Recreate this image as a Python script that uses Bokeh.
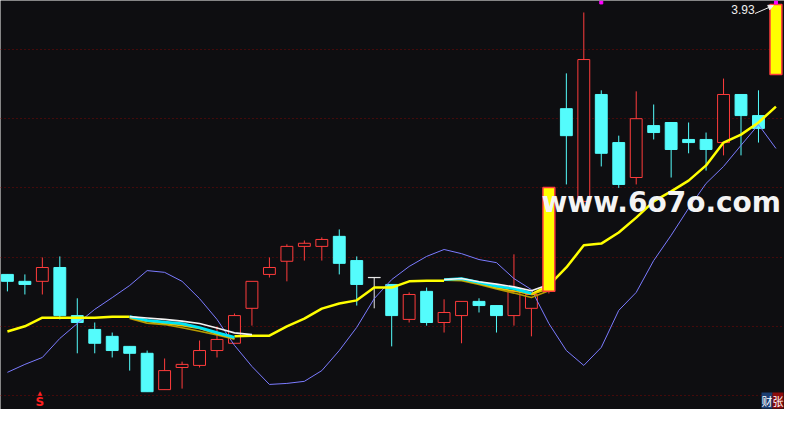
import numpy as np
from bokeh.plotting import figure
from bokeh.models import ColumnDataSource, FixedTicker, Grid, Label, Arrow, NormalHead
from bokeh.embed import file_html
from bokeh.resources import INLINE

nan = float("nan")

# daily bars
opens = [3.150, 3.130, 3.130, 3.170, 3.031, 2.991, 2.971, 2.942, 2.922, 2.817,
         2.881, 2.887, 2.930, 2.951, 3.052, 3.150, 3.188, 3.231, 3.231, 3.260,
         3.190, 3.141, 3.121, 3.020, 3.101, 3.011, 3.031, 3.072, 3.060, 3.031,
         3.052, 3.101, 3.629, 3.361, 3.670, 3.531, 3.430, 3.580, 3.589, 3.540,
         3.540, 3.531, 3.670, 3.609, 3.728]
highs = [3.150, 3.150, 3.199, 3.202, 3.081, 3.011, 2.982, 2.942, 2.930, 2.907,
         2.898, 2.959, 2.999, 3.037, 3.130, 3.199, 3.237, 3.248, 3.257, 3.280,
         3.202, 3.141, 3.121, 3.098, 3.112, 3.078, 3.072, 3.081, 3.060, 3.208,
         3.095, 3.401, 3.731, 3.907, 3.682, 3.551, 3.679, 3.641, 3.589, 3.589,
         3.560, 3.716, 3.670, 3.682, 3.930]
lows = [3.101, 3.092, 3.092, 3.020, 2.922, 2.922, 2.910, 2.872, 2.811, 2.817,
        2.820, 2.881, 2.910, 2.951, 3.002, 3.141, 3.130, 3.190, 3.190, 3.150,
        3.060, 3.052, 2.942, 3.011, 3.002, 2.982, 2.951, 3.040, 2.982, 3.002,
        2.971, 3.095, 3.410, 3.361, 3.462, 3.400, 3.410, 3.540, 3.430, 3.500,
        3.450, 3.494, 3.494, 3.531, 3.728]
closes = [3.130, 3.121, 3.170, 3.031, 3.011, 2.951, 2.930, 2.922, 2.811, 2.872,
          2.890, 2.930, 2.962, 3.031, 3.130, 3.170, 3.231, 3.240, 3.251, 3.182,
          3.121, 3.141, 3.031, 3.092, 3.011, 3.040, 3.072, 3.060, 3.031, 3.101,
          3.092, 3.401, 3.551, 3.771, 3.500, 3.410, 3.600, 3.560, 3.511, 3.531,
          3.511, 3.670, 3.609, 3.572, 3.930]

# moving-average style lines
ma_yellow = [2.985, 3.000, 3.025, 3.025, 3.025, 3.025, 3.028, 3.028, nan, nan,
             nan, nan, nan, 2.971, 2.973, 2.973, 3.000, 3.022, 3.051, 3.066,
             3.075, 3.112, 3.112, 3.130, 3.132, 3.132, nan, nan, nan, nan,
             3.092, 3.118, 3.170, 3.234, 3.239, 3.271, 3.314, 3.361, 3.390, 3.421,
             3.465, 3.531, 3.554, 3.589, 3.635]
ma_cyan = [nan, nan, nan, nan, nan, nan, nan, 3.028, 3.017, 3.012,
           3.008, 2.996, 2.982, 2.968, nan, nan, nan, nan, nan, nan,
           nan, nan, nan, nan, nan, 3.135, 3.138, 3.127, 3.116, 3.109,
           3.095, nan, nan, nan, nan, nan, nan, nan, nan, nan,
           nan, nan, nan, nan, nan]
ma_white = [nan, nan, nan, nan, nan, nan, nan, 3.028, 3.024, 3.020,
            3.015, 3.008, 2.995, 2.981, 2.976, nan, nan, nan, nan, nan,
            nan, nan, nan, nan, nan, 3.135, 3.138, 3.129, 3.122, 3.114,
            3.103, 3.121, nan, nan, nan, nan, nan, nan, nan, nan,
            nan, nan, nan, nan, nan]
ma_gold = [nan, nan, nan, nan, nan, nan, nan, 3.025, 3.014, 3.008,
           3.002, 2.994, 2.978, 2.965, nan, nan, nan, nan, nan, nan,
           nan, nan, nan, nan, nan, 3.135, 3.135, 3.124, 3.111, 3.102,
           3.092, 3.109, nan, nan, nan, nan, nan, nan, nan, nan,
           nan, nan, nan, nan, nan]
ma_olive = [nan, nan, nan, nan, nan, nan, nan, 3.023, 3.009, 3.005,
            2.996, 2.986, 2.975, 2.963, nan, nan, nan, nan, nan, nan,
            nan, nan, nan, nan, nan, 3.133, 3.132, 3.121, 3.108, 3.096,
            3.083, 3.103, nan, nan, nan, nan, nan, nan, nan, nan,
            nan, nan, nan, nan, nan]
ma_purple = [2.867, 2.890, 2.910, 2.965, 3.008, 3.049, 3.083, 3.118, 3.161, 3.156,
             3.130, 3.080, 3.020, 2.945, 2.884, 2.832, 2.835, 2.841, 2.872, 2.930,
             2.997, 3.080, 3.135, 3.173, 3.202, 3.222, 3.210, 3.193, 3.184, 3.138,
             3.106, 3.008, 2.930, 2.887, 2.939, 3.046, 3.098, 3.190, 3.263, 3.341,
             3.413, 3.462, 3.523, 3.583, 3.514]

grid_levels = [2.8, 3.0, 3.2, 3.4, 3.6, 3.8]
signal_idx = [2]
signal_text = ["S"]
top_marks = [34, 44]
max_label = "3.93"
watermark = "www.6o7o.com"

BG = "#0e0e11"
RED = "#ff3c3c"
CYAN = "#54fcfc"

n = len(closes)
idx = np.arange(n)
o = np.array(opens)
c = np.array(closes)
prev = np.concatenate([[np.inf], c[:-1]])
limit_up = c >= prev * 1.1 - 0.005

body_fill, body_line = [], []
for i in range(n):
    if c[i] > o[i]:
        body_fill.append(BG)
        body_line.append(RED)
    elif c[i] < o[i]:
        body_fill.append(CYAN)
        body_line.append(CYAN)
    else:
        body_fill.append("#e8e8e8")
        body_line.append("#e8e8e8")

src = ColumnDataSource(dict(
    x=idx, high=highs, low=lows,
    top=np.maximum(o, c), bottom=np.minimum(o, c),
    fill=body_fill, line=body_line,
))
normal = ColumnDataSource({k: [v[i] for i in range(n) if not limit_up[i]] for k, v in src.data.items()})
lim = ColumnDataSource({k: [v[i] for i in range(n) if limit_up[i]] for k, v in src.data.items()})

p = figure(width=784, height=409, x_range=(-0.396, 44.49), y_range=(2.7596, 3.9416),
           x_axis_type=None, y_axis_type=None, output_backend="svg", toolbar_location=None,
           min_border=0, background_fill_color=BG, border_fill_color=BG, outline_line_color=None)

p.add_layout(Grid(dimension=1, ticker=FixedTicker(ticks=grid_levels),
                  grid_line_color="#7a0606", grid_line_dash="1 3", grid_line_width=1))

# candles
p.segment(x0="x", y0="low", x1="x", y1="high", line_color="line", line_width=1, source=normal)
p.vbar(x="x", width=0.68, top="top", bottom="bottom", fill_color="fill", line_color="line",
       line_width=1, source=normal)
doji = [i for i in range(n) if opens[i] == closes[i]]
p.segment(x0=[i - 0.36 for i in doji], y0=[opens[i] for i in doji],
          x1=[i + 0.36 for i in doji], y1=[opens[i] for i in doji],
          line_color="#e8e8e8", line_width=1.2)

# lines
p.line(idx, ma_purple, line_color="#7b7bff", line_width=1)
p.line(idx, ma_yellow, line_color="#ffff00", line_width=2.5)
p.line(idx, ma_olive, line_color="#b89a00", line_width=1.6)
p.line(idx, ma_gold, line_color="#e8c400", line_width=1.6)
p.line(idx, ma_cyan, line_color="#00e4f4", line_width=2.8)
p.line(idx, ma_white, line_color="#f4f4f4", line_width=1.6)

# limit-up bars on top
p.segment(x0="x", y0="low", x1="x", y1="high", line_color=RED, line_width=1, source=lim)
p.vbar(x="x", width=0.68, top="top", bottom="bottom", fill_color="#ffff00", line_color=RED,
       line_width=1.5, source=lim)

# small marks along the top edge
p.scatter(x=top_marks, y=[3.936] * len(top_marks), marker="square", size=3,
          fill_color="#ff00ff", line_color="#ff00ff")

# max price label
last = n - 1
p.add_layout(Label(x=last - 1.22, y=3.928, text=max_label, text_align="right",
                   text_baseline="top", text_color="#f0f0f0", text_font="Liberation Sans",
                   text_font_size="12px"))
p.add_layout(Arrow(end=NormalHead(size=5, fill_color="#f0f0f0", line_color="#f0f0f0"),
                   x_start=last - 1.2, y_start=3.904, x_end=last - 0.15, y_end=3.927,
                   line_color="#f0f0f0", line_width=1))

# signal markers
for si, st in zip(signal_idx, signal_text):
    p.add_layout(Label(x=si, x_offset=-2.5, y=1, y_units="screen", text=st, text_align="center",
                       text_baseline="bottom", text_color="#ff2020", text_font="DejaVu Sans",
                       text_font_style="bold", text_font_size="12px"))
    p.add_layout(Label(x=si, x_offset=-2.5, y=14, y_units="screen", text="\u25b2", text_align="center",
                       text_baseline="bottom", text_color="#ff2020", text_font="DejaVu Sans",
                       text_font_size="6px"))

# watermark
p.add_layout(Label(x=541, y=207, x_units="screen", y_units="screen", text=watermark,
                   text_baseline="alphabetic", text_color="#f4f4f4", text_font="DejaVu Sans",
                   text_font_style="bold", text_font_size="28px"))

# corner badge
p.add_layout(Label(x=761, y=1, x_units="screen", y_units="screen", text="财",
                   text_baseline="bottom", text_color="#ffffff", text_font="Noto Sans CJK SC",
                   text_font_size="11px", background_fill_color="#1b3d70"))
p.add_layout(Label(x=772, y=1, x_units="screen", y_units="screen", text="张",
                   text_baseline="bottom", text_color="#ffffff", text_font="Noto Sans CJK SC",
                   text_font_size="11px", background_fill_color="#8a0c0c"))

open("out.html", "w").write(file_html(p, INLINE))
